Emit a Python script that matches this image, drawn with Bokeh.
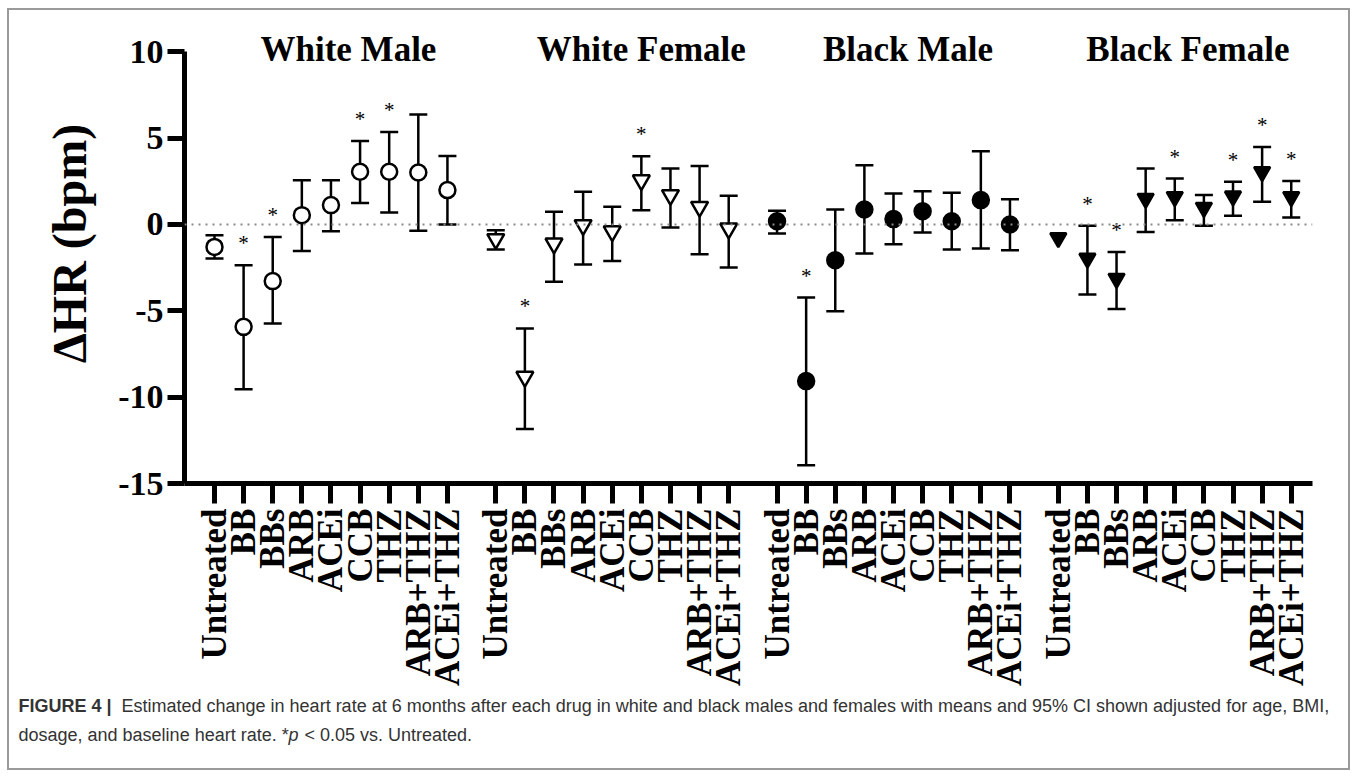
import math
from bokeh.plotting import figure
from bokeh.layouts import column, row
from bokeh.models import ColumnDataSource, Range1d, FixedTicker, Span
from bokeh.embed import file_html
from bokeh.resources import INLINE
from bokeh.core.properties import value

# ---------------------------------------------------------------- data
groups = ["White Male", "White Female", "Black Male", "Black Female"]
drugs = ["Untreated", "BB", "BBs", "ARB", "ACEi", "CCB", "THZ", "ARB+THZ", "ACEi+THZ"]

# estimated change in heart rate (bpm): mean and 95% CI bounds
wm_mean = [-1.30, -5.93, -3.28, 0.54, 1.12, 3.05, 3.05, 3.01, 1.99]
wm_lo = [-1.97, -9.54, -5.73, -1.53, -0.39, 1.25, 0.69, -0.37, 0.00]
wm_hi = [-0.62, -2.36, -0.72, 2.56, 2.56, 4.84, 5.36, 6.37, 3.97]
wm_sig = [0, 1, 1, 0, 0, 1, 1, 0, 0]

wf_mean = [-0.85, -8.82, -1.10, -0.04, -0.39, 2.56, 1.70, 1.02, -0.23]
wf_lo = [-1.45, -11.85, -3.32, -2.32, -2.11, 0.83, -0.17, -1.72, -2.49]
wf_hi = [-0.33, -6.02, 0.73, 1.89, 1.02, 3.95, 3.24, 3.39, 1.66]
wf_sig = [0, 1, 0, 0, 0, 1, 0, 0, 0]

bm_mean = [0.19, -9.07, -2.07, 0.87, 0.31, 0.77, 0.19, 1.41, 0.00]
bm_lo = [-0.52, -13.94, -5.02, -1.68, -1.14, -0.46, -1.45, -1.39, -1.49]
bm_hi = [0.79, -4.23, 0.87, 3.43, 1.79, 1.93, 1.83, 4.24, 1.46]
bm_sig = [0, 1, 0, 0, 0, 0, 0, 0, 0]

bf_mean = [-0.78, -1.97, -3.13, 1.50, 1.60, 0.98, 1.64, 3.05, 1.60]
bf_lo = [float("nan"), -4.05, -4.90, -0.43, 0.25, -0.08, 0.50, 1.31, 0.41]
bf_hi = [float("nan"), -0.08, -1.59, 3.24, 2.66, 1.70, 2.47, 4.49, 2.51]
bf_sig = [0, 1, 1, 0, 1, 0, 1, 1, 1]

y_ticks = [-15, -10, -5, 0, 5, 10]
y_label = "ΔHR (bpm)"

series = [
    (wm_mean, wm_lo, wm_hi, wm_sig),
    (wf_mean, wf_lo, wf_hi, wf_sig),
    (bm_mean, bm_lo, bm_hi, bm_sig),
    (bf_mean, bf_lo, bf_hi, bf_sig),
]

# ---------------------------------------------------------------- layout
INNER_W = 1339          # width inside the grey box
CHART_H = 680
CAP_H = 78
LAB_W = 100             # strip holding the rotated y-axis title
CHART_W = INNER_W - LAB_W
GROUP_STRIDE = 9.66
X0, X1 = -1.03, 37.71
Y0, Y1 = -15.0, 12.39
TITLE_Y = 10.14

SERIF = "Liberation Serif"
SANS = "Liberation Sans"

marker_styles = [
    dict(marker="circle", fill_color="white", size=16),
    dict(marker="inverted_triangle", fill_color="white", size=17),
    dict(marker="circle", fill_color="black", size=16),
    dict(marker="inverted_triangle", fill_color="black", size=16),
]
title_shift = [0.6, 1.0, 0.5, 0.45]


def blank(width, height):
    f = figure(width=width, height=height, output_backend="svg", toolbar_location=None,
               x_range=Range1d(0, width), y_range=Range1d(height, 0),
               x_axis_type=None, y_axis_type=None,
               min_border=0, min_border_left=0, min_border_right=0,
               min_border_top=0, min_border_bottom=0)
    f.outline_line_color = None
    f.grid.visible = False
    f.background_fill_color = "white"
    f.border_fill_color = "white"
    return f


# ---------------------------------------------------------------- chart
p = figure(width=CHART_W, height=CHART_H, output_backend="svg", toolbar_location=None,
           x_range=Range1d(X0, X1), y_range=Range1d(Y0, Y1),
           min_border_left=75, min_border_right=36,
           min_border_top=0, min_border_bottom=207)
p.outline_line_color = None
p.grid.visible = False
p.background_fill_color = "white"
p.border_fill_color = "white"

# dotted reference line at zero change
p.add_layout(Span(location=0, dimension="width", line_color="#8a8a8a",
                  line_width=2, line_dash="2 5"))

tick_positions = []
tick_labels = {}
for g, (mean, lo, hi, sig) in enumerate(series):
    xs = [g * GROUP_STRIDE + i for i in range(len(drugs))]
    for x, d in zip(xs, drugs):
        tick_positions.append(x)
        tick_labels[x] = d
    src = ColumnDataSource(dict(x=xs, mean=mean, lo=lo, hi=hi))
    p.segment(x0="x", y0="lo", x1="x", y1="hi", source=src,
              line_color="black", line_width=2.5)
    p.scatter(x="x", y="lo", source=src, marker="dash", size=18,
              line_color="black", line_width=2.5)
    p.scatter(x="x", y="hi", source=src, marker="dash", size=18,
              line_color="black", line_width=2.5)
    st = marker_styles[g]
    p.scatter(x="x", y="mean", source=src, marker=st["marker"], size=st["size"],
              fill_color=st["fill_color"], line_color="black", line_width=2.5)
    # significance stars above the upper CI bound
    sx = [x for x, s in zip(xs, sig) if s]
    sy = [h for h, s in zip(hi, sig) if s]
    p.text(x=sx, y=sy, text=["*"] * len(sx), text_font=value(SERIF),
           text_font_size="21px", text_align="center", text_baseline="alphabetic",
           y_offset=-22, text_color="black")

# group titles
title_x = [g * GROUP_STRIDE + (len(drugs) - 1) / 2 + title_shift[g] for g in range(len(groups))]
p.text(x=title_x, y=[TITLE_Y] * len(groups), text=groups, text_font=value(SERIF),
       text_font_size="35px", text_font_style="bold", text_align="center",
       text_baseline="alphabetic", text_color="black")

xa = p.xaxis[0]
xa.ticker = FixedTicker(ticks=tick_positions)
xa.major_label_overrides = tick_labels
xa.major_label_orientation = math.pi / 2
xa.major_label_text_font = SERIF
xa.major_label_text_font_style = "bold"
xa.major_label_text_font_size = "35px"
xa.major_label_text_color = "black"
xa.major_label_standoff = 5
xa.axis_line_width = 5
xa.major_tick_line_width = 5
xa.major_tick_out = 20
xa.major_tick_in = 0
xa.minor_tick_line_color = None

ya = p.yaxis[0]
ya.ticker = FixedTicker(ticks=y_ticks)
ya.major_label_overrides = {t: str(t) for t in y_ticks}
ya.bounds = (-15, 10)
ya.major_label_text_font = SERIF
ya.major_label_text_font_style = "bold"
ya.major_label_text_font_size = "34px"
ya.major_label_text_color = "black"
ya.major_label_standoff = 4
ya.axis_line_width = 5
ya.major_tick_line_width = 5
ya.major_tick_out = 17
ya.major_tick_in = 0
ya.minor_tick_line_color = None

# ---------------------------------------------------------------- y-axis title strip
lab = blank(LAB_W, CHART_H)
lab.text(x=[60], y=[335], text=[y_label], angle=math.pi / 2, text_font=value(SERIF),
         text_font_size="48px", text_font_style="bold", text_align="center",
         text_baseline="alphabetic", text_color="black")

# ---------------------------------------------------------------- caption
cap = blank(INNER_W, CAP_H)
cap_kw = dict(text_font=value(SANS), text_font_size="18px", text_color="#333333",
              text_baseline="alphabetic", text_align="left")
cap.text(x=[9], y=[15], text=["FIGURE 4 |"], text_font_style="bold", **cap_kw)
cap.text(x=[112], y=[15],
         text=["Estimated change in heart rate at 6 months after each drug in white and black "
               "males and females with means and 95% CI shown adjusted for age, BMI,"], **cap_kw)
cap.text(x=[9], y=[44], text=["dosage, and baseline heart rate. *"], **cap_kw)
cap.text(x=[279], y=[44], text=["p"], text_font_style="italic", **cap_kw)
cap.text(x=[295], y=[44], text=["< 0.05 vs. Untreated."], **cap_kw)

page = column(row(lab, p), cap, margin=(8, 0, 0, 7),
              styles={"border": "2px solid #9a9a9a"})

open("out.html", "w").write(file_html(page, INLINE))
